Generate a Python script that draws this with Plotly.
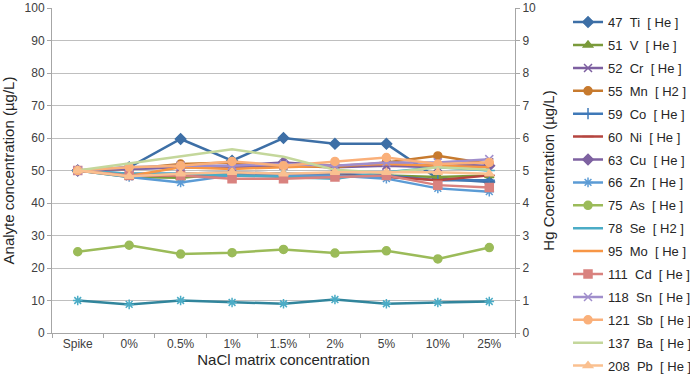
import plotly.graph_objects as go

categories = ["Spike", "0%", "0.5%", "1%", "1.5%", "2%", "5%", "10%", "25%"]

ti = [50, 51, 59.7, 53, 60, 58.2, 58.2, 47.5, 46.5]
v = [50, 48, 47.8, 49, 49, 48.5, 48.5, 48, 48.5]
cr = [50, 50.5, 51, 51, 51.5, 51, 51.5, 51, 52.5]
mn = [50, 50.5, 52, 52.5, 51.5, 51, 52.5, 54.5, 52]
co = [50, 49, 49, 49.5, 49, 49, 48.5, 47, 47]
ni = [50, 48.5, 48.5, 48.5, 48.5, 48.5, 48, 47, 48.5]
cu = [50, 50.5, 51, 51.5, 52.5, 51.5, 52, 51.5, 51.5]
zn = [50, 48, 46.3, 48.5, 48.5, 48.5, 47.5, 44.5, 43.5]
as_ = [25, 27, 24.3, 24.7, 25.7, 24.6, 25.3, 22.8, 26.3]
se = [50, 49, 49, 48.5, 48, 47.5, 49.5, 51, 50]
mo = [50, 48.3, 51, 50.5, 51, 51.5, 52, 51.5, 51]
cd = [50, 48.5, 48.5, 47.5, 47.5, 48, 48.5, 45.5, 44.8]
sn = [50, 51, 51.5, 51.5, 52, 51.5, 52.5, 52.5, 53.5]
sb = [50, 51, 51.5, 52.8, 51.5, 52.8, 54, 52, 52.5]
ba = [50, 52.1, 54.2, 56.5, 54.2, 50.2, 49.2, 51, 50.2]
pb = [50, 48.2, 49, 49.5, 49, 49.5, 49.5, 49.5, 49]
hg = [1.0, 0.88, 1.0, 0.94, 0.9, 1.03, 0.9, 0.94, 0.97]

NB = "\u00a0"
def lbl(mass, el, gas):
    return f"{mass}{NB}{NB}{el}{NB}{NB}[{NB}{gas}{NB}]"

series = [
    (lbl(47, "Ti", "He"), ti, "#3D6FA6", "diamond"),
    (lbl(51, "V", "He"), v, "#7A9A3A", "triangle-up"),
    (lbl(52, "Cr", "He"), cr, "#7D5FA0", "x-thin-open"),
    (lbl(55, "Mn", "H2"), mn, "#C77A2E", "circle"),
    (lbl(59, "Co", "He"), co, "#3F79B8", "cross-thin-open"),
    (lbl(60, "Ni", "He"), ni, "#B5443F", "line-ew-open"),
    (lbl(63, "Cu", "He"), cu, "#7E62A1", "diamond"),
    (lbl(66, "Zn", "He"), zn, "#5B9BD5", "asterisk-open"),
    (lbl(75, "As", "He"), as_, "#9BBB59", "circle"),
    (lbl(78, "Se", "H2"), se, "#4BACC6", "line-ew-open"),
    (lbl(95, "Mo", "He"), mo, "#F79646", None),
    (lbl(111, "Cd", "He"), cd, "#D9827F", "square"),
    (lbl(118, "Sn", "He"), sn, "#A08ECC", "x-thin-open"),
    (lbl(121, "Sb", "He"), sb, "#FAB07A", "circle"),
    (lbl(137, "Ba", "He"), ba, "#C4D79B", None),
    (lbl(208, "Pb", "He"), pb, "#FAC090", "triangle-up"),
]

fig = go.Figure()
for i, (name, vals, color, sym) in enumerate(series):
    if sym is None:
        mode = "lines"
        marker = None
    else:
        mode = "lines+markers"
        marker = dict(symbol=sym, size=8, color=color,
                      line=dict(color=color, width=1.5))
    fig.add_trace(go.Scatter(
        x=categories, y=vals, name=name, mode=mode,
        line=dict(color=color, width=2.5), marker=marker,
        legendgroup=f"g{i}",
    ))

fig.add_trace(go.Scatter(
    x=categories, y=hg, name="202 Hg [ He ]", mode="lines+markers",
    line=dict(color="#31859C", width=2.5),
    marker=dict(symbol="asterisk-open", size=8, color="#4BACC6",
                line=dict(color="#4BACC6", width=1.5)),
    yaxis="y2", showlegend=False,
))

axis_font = dict(family="Liberation Sans, Arial, sans-serif", size=12, color="#404040")
fig.update_layout(
    width=690, height=377,
    margin=dict(l=52, r=175, t=8, b=44, autoexpand=False),
    plot_bgcolor="white", paper_bgcolor="white",
    font=dict(family="Liberation Sans, Arial, sans-serif", size=12, color="#404040"),
    showlegend=True,
    legend=dict(x=1.1145, y=0.981, xanchor="left", yanchor="top",
                xref="paper", yref="container", maxheight=377,
                font=dict(size=13, color="#262626"),
                tracegroupgap=3, itemwidth=30,
                bgcolor="rgba(0,0,0,0)"),
    xaxis=dict(
        type="category", categoryorder="array", categoryarray=categories,
        showline=True, linecolor="#A6A6A6", linewidth=1,
        ticks="outside", tickson="boundaries", ticklen=4, tickcolor="#A6A6A6",
        showgrid=False, tickfont=axis_font,
        title=dict(text="NaCl matrix concentration", font=dict(size=15, color="#262626"), standoff=4),
        range=[-0.5, 8.5],
    ),
    yaxis=dict(
        range=[0, 100], dtick=10, showline=True, linecolor="#A6A6A6",
        ticks="outside", ticklen=4, tickcolor="#A6A6A6",
        showgrid=True, gridcolor="#BFBFBF", gridwidth=1,
        tickfont=axis_font, zeroline=False,
        title=dict(text="Analyte concentration (µg/L)", font=dict(size=15, color="#262626"), standoff=6),
    ),
    yaxis2=dict(
        range=[0, 10], dtick=1, overlaying="y", side="right",
        showline=True, linecolor="#A6A6A6",
        ticks="outside", ticklen=4, tickcolor="#A6A6A6",
        showgrid=False, tickfont=axis_font, zeroline=False,
        title=dict(text="Hg Concentration (µg/L)", font=dict(size=15, color="#262626"), standoff=8),
    ),
)

fig.write_html("out.html", config={"displayModeBar": False},
               post_script="document.body.style.margin='0';document.body.style.overflow='hidden';")
